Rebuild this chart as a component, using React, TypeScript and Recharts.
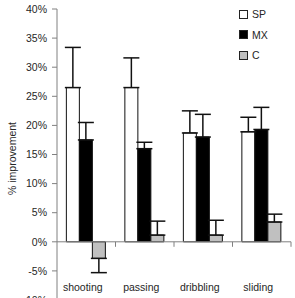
import React from "react";
import {
  BarChart,
  Bar,
  XAxis,
  YAxis,
  ErrorBar,
  Legend,
  ReferenceLine,
  Label,
} from "recharts";

const categories = ["shooting", "passing", "dribbling", "sliding"];
const spValues = [26.5, 26.5, 18.7, 18.9];
const mxValues = [17.5, 16.0, 18.0, 19.3];
const cValues = [-2.85, 1.15, 1.15, 3.4];
// [lower, upper] error for each bar (one-sided, away from zero)
const spErrors = [[0, 6.9], [0, 5.1], [0, 3.8], [0, 2.5]];
const mxErrors = [[0, 3.0], [0, 1.1], [0, 3.9], [0, 3.8]];
const cErrors = [[2.45, 0], [0, 2.4], [0, 2.55], [0, 1.35]];
const yTicks = [-10, -5, 0, 5, 10, 15, 20, 25, 30, 35, 40];

const series = [
  { key: "SP", fill: "#ffffff" },
  { key: "MX", fill: "#000000" },
  { key: "C", fill: "#c0c0c0" },
];

const data = categories.map((name, i) => ({
  name,
  SP: spValues[i],
  MX: mxValues[i],
  C: cValues[i],
  spErr: spErrors[i],
  mxErr: mxErrors[i],
  cErr: cErrors[i],
}));

const FONT = "'Liberation Sans', Arial, sans-serif";
const TEXT = "#262626";
const AXIS = "#808080";
const FS = 10.5;

function CategoryTick({ x, y, payload }: any) {
  return (
    <text x={x - 3.5} y={y - 11} textAnchor="middle" fontSize={FS} fontFamily={FONT} fill={TEXT}>
      {payload.value}
    </text>
  );
}

function ZeroTicks({ viewBox }: any) {
  if (!viewBox) return null;
  const n = categories.length;
  return (
    <g>
      {categories.map((c, i) => {
        const bx = viewBox.x + (viewBox.width * (i + 1)) / n;
        return <line key={c} x1={bx} x2={bx} y1={viewBox.y} y2={viewBox.y + 5} stroke={AXIS} />;
      })}
    </g>
  );
}

function LegendBox() {
  return (
    <div style={{ fontFamily: FONT, fontSize: FS, color: TEXT, lineHeight: "20.5px" }}>
      {series.map((s) => (
        <div key={s.key} style={{ display: "flex", alignItems: "center" }}>
          <span
            style={{
              display: "inline-block",
              width: 7,
              height: 7,
              background: s.fill,
              border: "1px solid #222",
              marginRight: 4,
            }}
          />
          {s.key}
        </div>
      ))}
    </div>
  );
}

export default function App() {
  return (
    <div
      style={{
        position: "absolute",
        left: 0,
        top: 0,
        width: 295,
        height: 298,
        overflow: "hidden",
        background: "#fff",
      }}
    >
      <BarChart
        width={295}
        height={320}
        data={data}
        margin={{ top: 9, right: 4, left: 0, bottom: 10 }}
        barCategoryGap="16%"
        barGap={0}
      >
        <XAxis
          dataKey="name"
          height={10}
          axisLine={false}
          tickLine={false}
          tickSize={0}
          tick={<CategoryTick />}
          interval={0}
        />
        <YAxis
          width={57}
          domain={[-10, 40]}
          ticks={yTicks}
          interval={0}
          tickFormatter={(v) => `${v}%`}
          stroke={AXIS}
          tickSize={5}
          tickMargin={5}
          tick={{ fontSize: FS, fontFamily: FONT, fill: TEXT }}
        >
          <Label
            content={({ viewBox }: any) => {
              const cx = 12;
              const cy = viewBox.y + viewBox.height / 2 + 4;
              return (
                <text
                  x={cx}
                  y={cy}
                  transform={`rotate(-90, ${cx}, ${cy})`}
                  textAnchor="middle"
                  dominantBaseline="central"
                  fontSize={FS}
                  fontFamily={FONT}
                  fill={TEXT}
                >
                  % improvement
                </text>
              );
            }}
          />
        </YAxis>
        <ReferenceLine y={0} stroke={AXIS} label={<ZeroTicks />} />
        <Legend
          layout="vertical"
          verticalAlign="middle"
          align="center"
          content={<LegendBox />}
          wrapperStyle={{ top: 4, left: 239, width: 50 }}
        />
        <Bar dataKey="SP" fill="#ffffff" stroke="#111" isAnimationActive={false}>
          <ErrorBar dataKey="spErr" width={8} stroke="#111" direction="y" />
        </Bar>
        <Bar dataKey="MX" fill="#000000" stroke="#111" isAnimationActive={false}>
          <ErrorBar dataKey="mxErr" width={8} stroke="#111" direction="y" />
        </Bar>
        <Bar dataKey="C" fill="#c0c0c0" stroke="#111" isAnimationActive={false}>
          <ErrorBar dataKey="cErr" width={8} stroke="#111" direction="y" />
        </Bar>
      </BarChart>
    </div>
  );
}
